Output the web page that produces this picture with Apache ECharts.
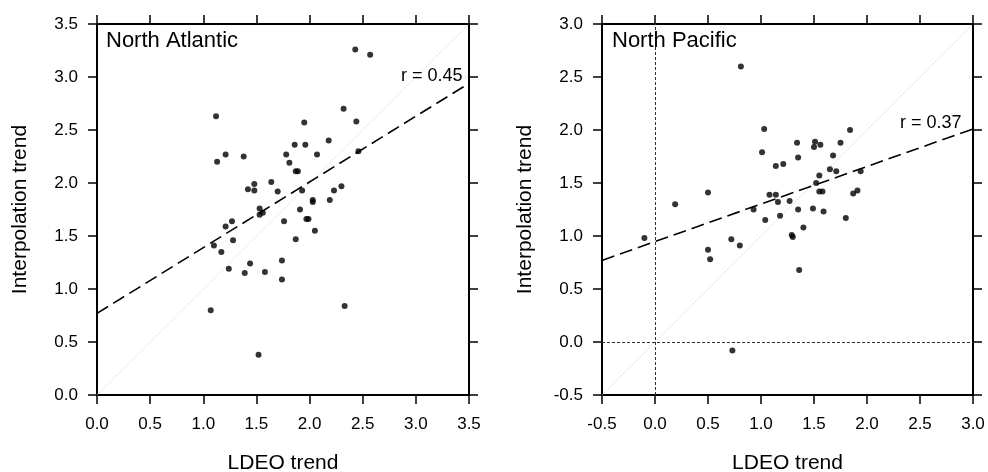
<!DOCTYPE html>
<html>
<head>
<meta charset="utf-8">
<script src="https://cdn.jsdelivr.net/npm/echarts@6/dist/echarts.min.js"></script>
<style>
  html, body { margin: 0; padding: 0; background: #fff; }
  #main { width: 988px; height: 472px; }
</style>
</head>
<body>
<div id="main"></div>
<script>
// North Atlantic: LDEO trend (x) vs interpolation trend (y)
var naX = [2.43, 2.57, 1.12, 2.32, 2.44, 1.95, 1.86, 1.96, 2.18, 1.13, 1.21, 1.38, 1.78, 1.81, 2.07, 2.46, 1.87, 1.89,
           1.42, 1.48, 1.48, 1.64, 1.70, 1.93, 2.30, 2.23, 2.03, 2.03, 2.19, 1.53, 1.56, 1.53, 1.91, 1.21, 1.27, 1.76,
           1.97, 1.99, 2.05, 1.10, 1.28, 1.17, 1.87, 1.24, 1.44, 1.39, 1.58, 1.74, 1.74, 1.07, 2.33, 1.52];
var naY = [3.26, 3.21, 2.63, 2.70, 2.58, 2.57, 2.36, 2.36, 2.40, 2.20, 2.27, 2.25, 2.27, 2.19, 2.27, 2.30, 2.11, 2.11,
           1.94, 1.99, 1.93, 2.01, 1.92, 1.93, 1.97, 1.93, 1.84, 1.82, 1.84, 1.76, 1.72, 1.70, 1.75, 1.59, 1.64, 1.64,
           1.66, 1.66, 1.55, 1.41, 1.46, 1.35, 1.47, 1.19, 1.24, 1.15, 1.16, 1.27, 1.09, 0.80, 0.84, 0.38];
// North Pacific
var npX = [0.81, 1.03, 1.01, 1.34, 1.51, 1.50, 1.56, 1.75, 1.84, 1.35, 1.68, 1.14, 1.21, 1.65, 1.71, 1.55, 1.94, 1.52,
           1.55, 1.58, 1.87, 1.91, 0.50, 0.19, 1.08, 1.14, 1.16, 1.27, -0.10, 0.93, 1.04, 1.18, 1.35, 1.49, 1.59, 1.80,
           1.40, 1.29, 1.30, 1.36, 0.50, 0.52, 0.72, 0.80, 0.73];
var npY = [2.60, 2.01, 1.79, 1.88, 1.89, 1.84, 1.86, 1.88, 2.00, 1.74, 1.76, 1.66, 1.68, 1.63, 1.61, 1.57, 1.61, 1.50,
           1.42, 1.42, 1.40, 1.43, 1.41, 1.30, 1.39, 1.39, 1.32, 1.33, 0.98, 1.25, 1.15, 1.19, 1.25, 1.26, 1.23, 1.17,
           1.08, 1.01, 0.99, 0.68, 0.87, 0.78, 0.97, 0.91, -0.08];

// regression lines (end points)
var naFitX = [0.0, 3.5];
var naFitY = [0.77, 2.94];
var npFitX = [-0.5, 3.0];
var npFitY = [0.77, 2.01];

var naRange = [0.0, 3.5];
var npRange = [-0.5, 3.0];
var tickStep = 0.5;

var naTitle = "North Atlantic", npTitle = "North Pacific";
var naR = "r = 0.45", npR = "r = 0.37";
var xName = "LDEO trend", yName = "Interpolation trend";

var FONT = "Liberation Sans";

function pairs(xs, ys) {
    var out = [];
    for (var i = 0; i < xs.length; i++) out.push([xs[i], ys[i]]);
    return out;
}

function makeAxis(gridIndex, range, position, main, name) {
    var horiz = (position === "bottom" || position === "top");
    var ax = {
        type: "value",
        gridIndex: gridIndex,
        position: position,
        min: range[0],
        max: range[1],
        interval: tickStep,
        splitLine: { show: false },
        axisLine: { show: true, onZero: false, lineStyle: { color: "#000", width: 2 } },
        axisTick: { show: true, inside: false, length: 9, lineStyle: { color: "#000", width: 1.5 } },
        axisLabel: {
            show: main,
            color: "#000",
            fontFamily: FONT,
            fontSize: 17,
            margin: horiz ? 21 : 19,
            formatter: function (v) { return v.toFixed(1); }
        }
    };
    if (main) {
        ax.name = name;
        ax.nameLocation = "middle";
        ax.nameGap = horiz ? 58 : 66;
        ax.nameTextStyle = { color: "#000", fontFamily: FONT, fontSize: 21 };
    }
    return ax;
}

var grids = [
    { left: 97, top: 24, width: 372, height: 371, outerBoundsMode: "none", containLabel: false },
    { left: 602, top: 24, width: 371, height: 371, outerBoundsMode: "none", containLabel: false }
];

var xAxes = [
    makeAxis(0, naRange, "bottom", true, xName),
    makeAxis(0, naRange, "top", false),
    makeAxis(1, npRange, "bottom", true, xName),
    makeAxis(1, npRange, "top", false)
];
var yAxes = [
    makeAxis(0, naRange, "left", true, yName),
    makeAxis(0, naRange, "right", false),
    makeAxis(1, npRange, "left", true, yName),
    makeAxis(1, npRange, "right", false)
];

function panelSeries(axisIdx, xs, ys, fitX, fitY, range, zeroLines) {
    var list = [];
    // 1:1 line
    list.push({
        type: "line", xAxisIndex: axisIdx, yAxisIndex: axisIdx,
        data: [[range[0], range[0]], [range[1], range[1]]],
        symbol: "none", silent: true,
        lineStyle: { color: "#c8c8c8", width: 1, type: [1, 2] }
    });
    // fit
    list.push({
        type: "line", xAxisIndex: axisIdx, yAxisIndex: axisIdx,
        data: pairs(fitX, fitY),
        symbol: "none", silent: true,
        lineStyle: { color: "#000", width: 1.6, type: [13, 6] }
    });
    var sc = {
        type: "scatter", xAxisIndex: axisIdx, yAxisIndex: axisIdx,
        data: pairs(xs, ys),
        symbol: "circle", symbolSize: 6,
        itemStyle: { color: "#000" },
        z: 5
    };
    if (zeroLines) {
        sc.markLine = {
            silent: true,
            symbol: ["none", "none"],
            label: { show: false },
            lineStyle: { color: "#333", width: 1, type: [3, 2] },
            data: [{ xAxis: 0 }, { yAxis: 0 }]
        };
    }
    list.push(sc);
    return list;
}

var series = [].concat(
    panelSeries(0, naX, naY, naFitX, naFitY, naRange, false),
    panelSeries(2, npX, npY, npFitX, npFitY, npRange, true)
);

function label(text, left, top, size) {
    return {
        text: text, left: left, top: top, padding: 0,
        textStyle: { color: "#000", fontFamily: FONT, fontSize: size, fontWeight: "normal" }
    };
}

var chart = echarts.init(document.getElementById("main"), null, { renderer: "canvas" });
chart.setOption({
    animation: false,
    backgroundColor: "#fff",
    title: [
        label(naTitle, 106, 30, 22),
        label(npTitle, 612, 30, 22),
        label(naR, 401, 67, 18),
        label(npR, 900, 114, 18)
    ],
    grid: grids,
    xAxis: xAxes,
    yAxis: yAxes,
    series: series
});
</script>
</body>
</html>
